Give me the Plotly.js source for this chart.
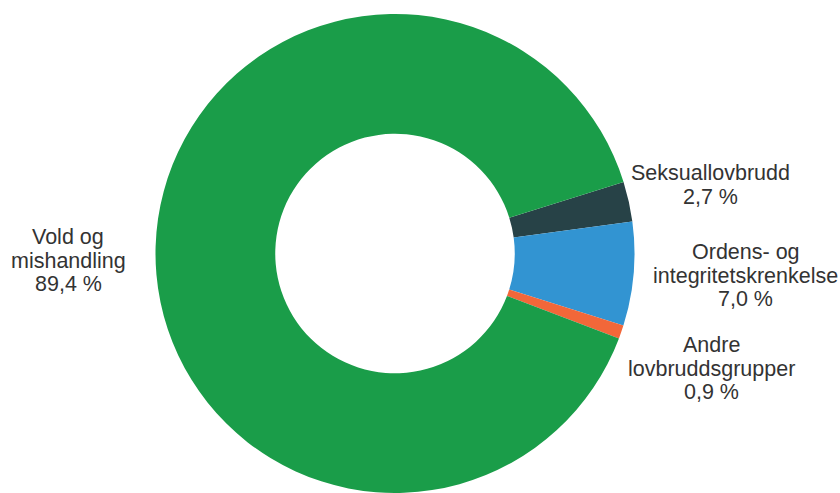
<!DOCTYPE html>
<html>
<head>
<meta charset="utf-8">
<script src="https://cdn.plot.ly/plotly-3.0.1.min.js"></script>
<style>html,body{margin:0;padding:0;background:#fff;}#chart{width:840px;height:493px;}</style>
</head>
<body>
<div id="chart"></div>
<script>
const categories = ['Seksuallovbrudd', 'Ordens- og integritetskrenkelse', 'Andre lovbruddsgrupper', 'Vold og mishandling'];
const labelLines = [['Seksuallovbrudd'], ['Ordens- og', 'integritetskrenkelse'], ['Andre', 'lovbruddsgrupper'], ['Vold og', 'mishandling']];
const shares = [2.7, 7.0, 0.9, 89.4];
const colors = ['#274247', '#3294d2', '#f26739', '#1a9d49'];

// label block anchor: centre x and first-line y in pixels (layout only)
const labelPos = [[710, 173], [745.5, 252], [711, 345], [68, 237]];
const lineStep = 23.6;
const W = 840, H = 493;

const annotations = [];
categories.forEach((c, i) => {
  const lines = labelLines[i].concat([shares[i].toFixed(1).replace('.', ',') + ' %']);
  lines.forEach((t, k) => {
    annotations.push({
      xref: 'paper', yref: 'paper',
      x: labelPos[i][0] / W, y: 1 - (labelPos[i][1] + k * lineStep) / H,
      xanchor: 'center', yanchor: 'middle', align: 'center',
      showarrow: false, borderpad: 0,
      text: t,
      font: {family: 'Liberation Sans, Arial, sans-serif', size: 21.5, color: '#333333'}
    });
  });
});

Plotly.newPlot('chart', [{
  type: 'pie',
  labels: categories,
  values: shares,
  hole: 0.5,
  sort: false,
  direction: 'clockwise',
  rotation: 72.6,
  marker: {colors: colors, line: {width: 0}},
  textinfo: 'none',
  hoverinfo: 'label+percent',
  domain: {x: [0, 790 / 840], y: [0, 479 / 493]}
}], {
  width: W, height: H,
  margin: {l: 0, r: 0, t: 0, b: 0},
  showlegend: false,
  paper_bgcolor: '#ffffff',
  annotations: annotations
}, {displayModeBar: false, staticPlot: true});
</script>
</body>
</html>
